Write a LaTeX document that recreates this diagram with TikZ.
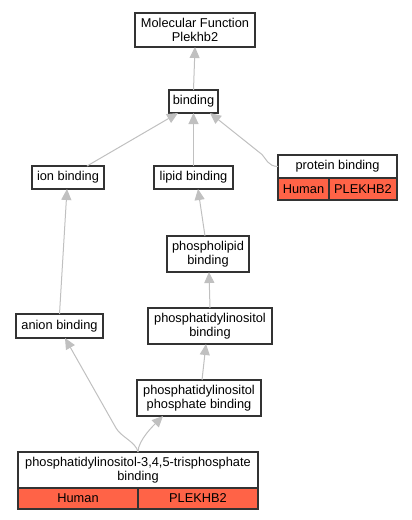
\documentclass[tikz,border=0pt]{standalone}
\usepackage{fontspec}
\setmainfont{Liberation Sans}
\usepackage{xcolor}
\usetikzlibrary{calc,arrows.meta}
\definecolor{edgegray}{HTML}{C0C0C0}
\definecolor{boxline}{HTML}{333333}
\definecolor{humanred}{HTML}{FF6347}

\begin{document}
\begin{tikzpicture}[x=1pt, y=-1pt,
    term/.style={draw=boxline, line width=1.2pt, fill=white, inner sep=0pt, outer sep=0pt,
                 align=center, font=\fontsize{12.8}{14.5}\selectfont},
    anno/.style={term, fill=humanred},
    isa/.style={draw=edgegray, line width=1pt, -{Triangle[length=11pt,width=10pt]}}]
    \useasboundingbox (0,0) rectangle (412,520);

    % GO terms
    \node[term, minimum width=120pt, minimum height=34pt] (mf) at (195,30) {Molecular Function\\Plekhb2};
    \node[term, minimum width=49pt, minimum height=23pt] (binding) at (193.5,101.5) {binding};
    \node[term, minimum width=72pt, minimum height=23pt] (ion) at (68,177.5) {ion binding};
    \node[term, minimum width=79pt, minimum height=23pt] (lipid) at (193.5,177.5) {lipid binding};
    \node[term, minimum width=82pt, minimum height=36pt] (phl) at (208,254) {phospholipid\\binding};
    \node[term, minimum width=87pt, minimum height=24pt] (anion) at (59.5,326) {anion binding};
    \node[term, minimum width=124pt, minimum height=36pt] (pib) at (210,326) {phosphatidylinositol\\binding};
    \node[term, minimum width=124pt, minimum height=36pt] (pipb) at (199,398) {phosphatidylinositol\\phosphate binding};

    % annotated terms
    \node[term, minimum width=119pt, minimum height=23pt] (prot) at (337.5,166.5) {protein binding};
    \node[anno, minimum width=51pt, minimum height=22pt] (prothuman) at (303.5,189) {Human};
    \node[anno, minimum width=68pt, minimum height=22pt] (protgene) at (363,189) {PLEKHB2};

    \node[term, minimum width=240pt, minimum height=36pt] (pip3) at (138,470) {phosphatidylinositol-3,4,5-trisphosphate\\binding};
    \node[anno, minimum width=120pt, minimum height=21pt] (pip3human) at (78,498.5) {Human};
    \node[anno, minimum width=120pt, minimum height=21pt] (pip3gene) at (198,498.5) {PLEKHB2};

    % is_a edges
    \draw[isa] (binding.north) -- (mf.south);
    \draw[isa] ([xshift=19pt]ion.north) -- ([xshift=-15.5pt]binding.south);
    \draw[isa] (lipid.north) -- (binding.south);
    \draw[isa] (prot.west) .. controls +(-10,0) and +(4,4) .. +(-16,-12) -- ([xshift=16.5pt]binding.south);
    \draw[isa] ([xshift=-3pt]phl.north) -- ([xshift=4.5pt]lipid.south);
    \draw[isa] (anion.north) -- ([xshift=-1pt]ion.south);
    \draw[isa] (pib.north) -- ([xshift=1pt]phl.south);
    \draw[isa] ([xshift=3pt]pipb.north) -- ([xshift=-4pt]pib.south);
    \draw[isa] (pip3.north) .. controls +(-2,-10) and +(5,9) .. +(-22,-24) -- ([xshift=5.5pt]anion.south);
    \draw[isa] (pip3.north) .. controls +(0,-12) and +(-8,8) .. ([xshift=-36pt]pipb.south);
\end{tikzpicture}
\end{document}
